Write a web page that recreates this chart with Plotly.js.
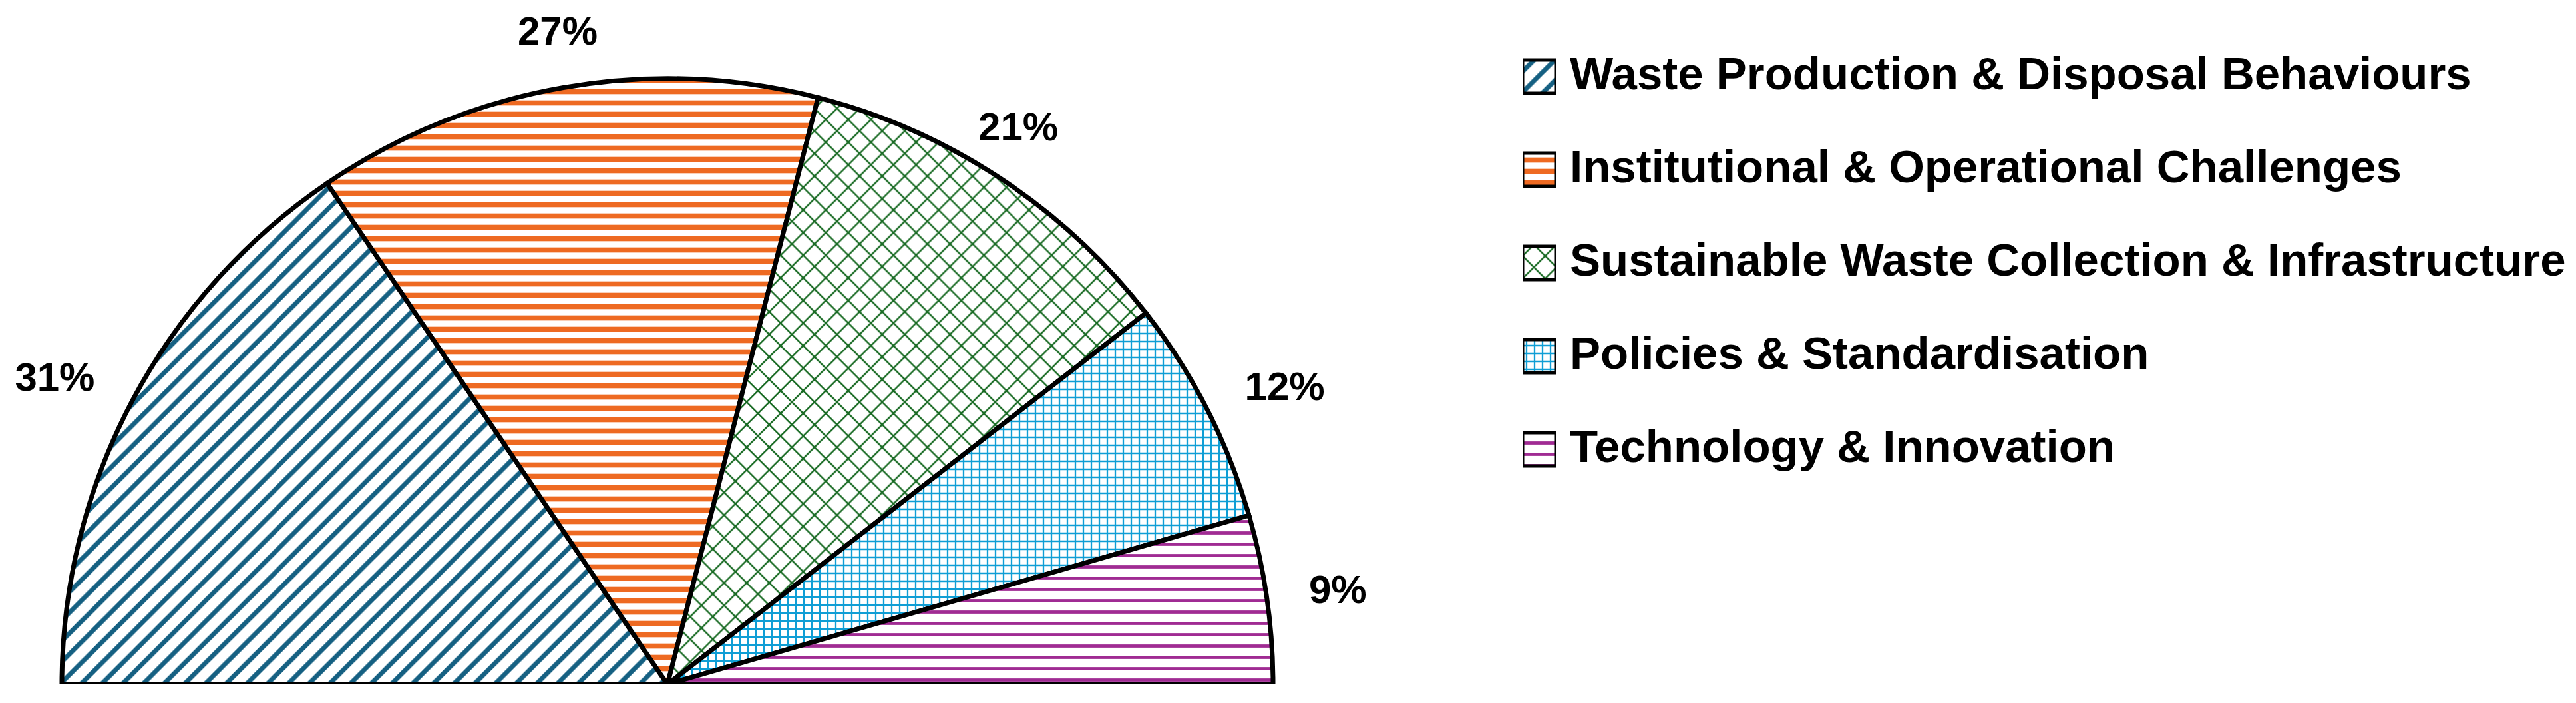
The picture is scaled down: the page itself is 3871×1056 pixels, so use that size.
<!DOCTYPE html>
<html>
<head>
<meta charset="utf-8">
<script src="https://cdn.plot.ly/plotly-3.0.1.min.js"></script>
<style>
  html, body { margin: 0; padding: 0; background: #ffffff; }
  #plot { width: 3871px; height: 1056px; }
</style>
</head>
<body>
<div id="plot"></div>
<script>
// categories and their shares (%)
var categories = [
    'Waste Production & Disposal Behaviours',
    'Institutional & Operational Challenges',
    'Sustainable Waste Collection & Infrastructure',
    'Policies & Standardisation',
    'Technology & Innovation'
];
var shares = [31, 27, 21, 12, 9];

// styles
var colors = ['#156082', '#EE6A22', '#196B24', '#0F9ED5', '#A02B93'];
var pat_shapes = ['/', '-', 'x', '+', '-'];
var pat_sizes = [22, 17, 24, 12, 17];
var pat_solid = [0.32, 0.45, 0.2, 0.35, 0.28];

var font_family = '"Liberation Sans", Arial, sans-serif';

// half pie -> angles over 180 degrees
var total = shares.reduce(function (a, b) { return a + b; }, 0);
var theta = [];
var widths = [];
var cum = 0;
for (var i = 0; i < shares.length; i++) {
    widths.push(shares[i] * 180 / total);
    theta.push((cum + shares[i] / 2) * 180 / total);
    cum += shares[i];
}

// labels sit just outside the arc, text pushed outwards on the sides
var label_pos = theta.map(function (t) {
    var c = Math.cos((180 - t) * Math.PI / 180);
    if (c < -0.7) return 'middle left';
    if (c > 0.7) return 'middle right';
    return 'top center';
});
var label_r = label_pos.map(function (p) { return p == 'top center' ? 1.055 : 1.07; });

var slices = {
    type: 'barpolar',
    r: shares.map(function () { return 1; }),
    theta: theta,
    width: widths,
    marker: {
        color: 'white',
        line: {color: 'black', width: 7},
        pattern: {shape: pat_shapes, fgcolor: colors, bgcolor: 'white', size: pat_sizes, solidity: pat_solid}
    },
    hoverinfo: 'skip',
    showlegend: false
};

var labels = {
    type: 'scatterpolar',
    mode: 'text',
    r: label_r,
    theta: theta,
    text: shares.map(function (v) { return v + '%'; }),
    textfont: {family: font_family, size: 60, color: 'black', weight: 'bold'},
    textposition: label_pos,
    cliponaxis: false,
    hoverinfo: 'skip',
    showlegend: false
};

// legend drawn as small square bars + text
var legend_boxes = {
    type: 'bar',
    orientation: 'h',
    y: categories,
    x: categories.map(function () { return 1; }),
    width: 0.357,
    xaxis: 'x',
    yaxis: 'y',
    marker: {
        color: 'white',
        line: {color: 'black', width: 5},
        pattern: {shape: pat_shapes, fgcolor: colors, bgcolor: 'white', size: pat_sizes, solidity: pat_solid}
    },
    hoverinfo: 'skip',
    showlegend: false
};

var annotations = categories.map(function (c) {
    return {
        text: c, xref: 'paper', yref: 'y', x: 2357 / 3871, y: c,
        xanchor: 'left', yanchor: 'middle', yshift: 4, showarrow: false,
        font: {family: font_family, size: 69, color: 'black', weight: 'bold'}
    };
});

var layout = {
    width: 3871,
    height: 1056,
    margin: {l: 0, r: 0, t: 0, b: 0},
    paper_bgcolor: 'white',
    plot_bgcolor: 'white',
    showlegend: false,
    hovermode: false,
    polar: {
        domain: {x: [2 / 3871, 2004 / 3871], y: [28 / 1056, 1029 / 1056]},
        sector: [0, 180],
        hole: 0,
        bgcolor: 'white',
        radialaxis: {visible: false, range: [0, 1.1]},
        angularaxis: {visible: false, direction: 'clockwise', rotation: 180, thetaunit: 'degrees'}
    },
    xaxis: {domain: [2288 / 3871, 2338 / 3871], range: [0, 1], visible: false, fixedrange: true},
    yaxis: {domain: [0.29451, 0.95739], type: 'category', range: [4.5, -0.5], visible: false, fixedrange: true},
    annotations: annotations
};

Plotly.newPlot('plot', [slices, labels, legend_boxes], layout, {displayModeBar: false, staticPlot: true});
</script>
</body>
</html>
